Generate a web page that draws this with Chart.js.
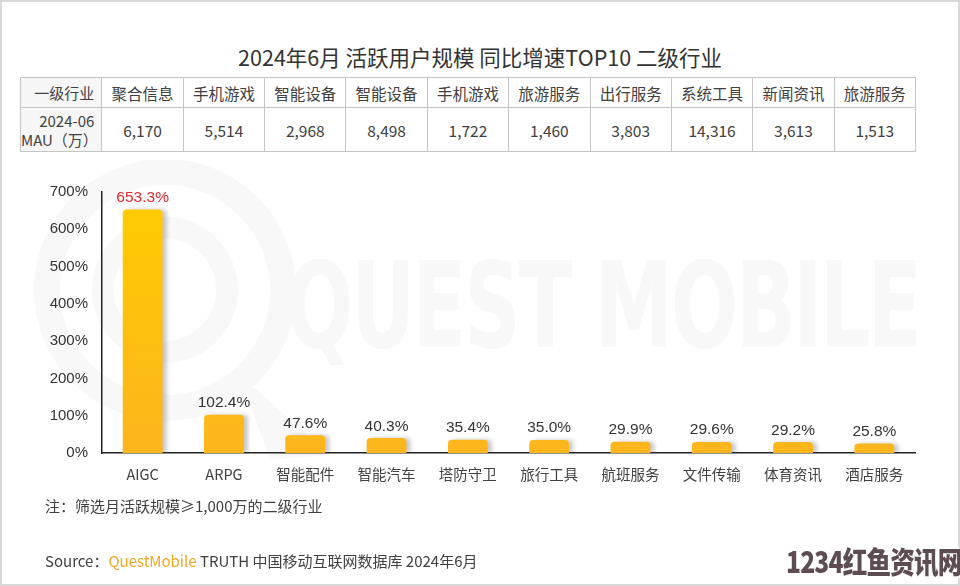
<!DOCTYPE html>
<html>
<head>
<meta charset="utf-8">
<script src="https://cdn.jsdelivr.net/npm/chart.js@4.4.1/dist/chart.umd.min.js"></script>
<style>
html, body { margin: 0; padding: 0; background: #fff; }
body { width: 960px; height: 586px; position: relative; overflow: hidden; font-family: "Noto Sans CJK SC", "Noto Sans", sans-serif; color: #404040; }
.frame { position: absolute; left: 0; top: 0; width: 956px; height: 582px; border: 2px solid #d8d8d8; }
.wm { position: absolute; left: 286px; top: 246px; font-family: "DejaVu Sans", sans-serif; font-weight: 700; font-size: 120px; color: #f8f8f8; white-space: nowrap; line-height: 1; letter-spacing: -4px; transform: scaleX(0.66); transform-origin: left top; }
.logo { position: absolute; left: 0; top: 160px; }
#wrap { position: absolute; left: 0; top: 0; width: 960px; height: 586px; }
.title { position: absolute; left: 0; width: 960px; top: 41px; text-align: center; font-size: 21.5px; color: #333; }
table { position: absolute; left: 20px; top: 77px; border-collapse: collapse; table-layout: fixed; width: 896px; font-size: 15.5px; color: #404040; }
td { border: 1.5px solid #c4c4c4; text-align: center; padding: 0; }
tr.h td { height: 29px; }
tr.v td { height: 43px; }
td.first { text-align: right; padding-right: 7px; background: #f6f6f6; line-height: 19px; font-size: 15px; }
.note { position: absolute; left: 45px; top: 495px; font-size: 15px; color: #404040; }
.src { position: absolute; left: 45px; top: 550px; font-size: 15px; color: #404040; }
.src b { font-weight: 400; color: #f5a623; }
.site { position: absolute; left: 786px; top: 538px; font-size: 30px; font-weight: 900; color: #5d4d52; white-space: nowrap; letter-spacing: -1px; transform: scaleX(0.82); transform-origin: left top; text-shadow: 2px 2px 0 #fff, -2px -2px 0 #fff; }
</style>
</head>
<body>
<div class="frame"></div>
<svg class="logo" width="340" height="320">
<circle cx="165" cy="130" r="118" fill="none" stroke="#f8f8f8" stroke-width="26"/>
<circle cx="165" cy="130" r="62" fill="none" stroke="#f8f8f8" stroke-width="22"/>
<path d="M240 215 L330 295 L270 300 Z" fill="#f8f8f8"/>
</svg>
<div class="wm">QUEST MOBILE</div>
<div class="title">2024年6月 活跃用户规模 同比增速TOP10 二级行业</div>
<table id="tbl"></table>
<div id="wrap"><canvas id="chart"></canvas></div>
<div class="note">注：筛选月活跃规模≥1,000万的二级行业</div>
<div class="src">Source：<b>QuestMobile</b> TRUTH 中国移动互联网数据库 2024年6月</div>
<div class="site">1234红鱼资讯网</div>
<script>
const categories = ['AIGC', 'ARPG', '智能配件', '智能汽车', '塔防守卫', '旅行工具', '航班服务', '文件传输', '体育资讯', '酒店服务'];
const growth = [653.3, 102.4, 47.6, 40.3, 35.4, 35.0, 29.9, 29.6, 29.2, 25.8];
const parentIndustry = ['聚合信息', '手机游戏', '智能设备', '智能设备', '手机游戏', '旅游服务', '出行服务', '系统工具', '新闻资讯', '旅游服务'];
const mau = ['6,170', '5,514', '2,968', '8,498', '1,722', '1,460', '3,803', '14,316', '3,613', '1,513'];
const yTicks = [0, 100, 200, 300, 400, 500, 600, 700];

function buildTable() {
  let h = '<tr class="h"><td class="first">一级行业</td>';
  parentIndustry.forEach(function(p) { h += '<td>' + p + '</td>'; });
  h += '</tr><tr class="v"><td class="first">2024-06<br>MAU（万）</td>';
  mau.forEach(function(m) { h += '<td>' + m + '</td>'; });
  h += '</tr>';
  document.getElementById('tbl').innerHTML = h;
}

const barShadow = {
  id: 'barShadow',
  beforeDatasetDraw: function(chart) {
    const ctx = chart.ctx;
    ctx.save();
    ctx.shadowColor = 'rgba(0,0,0,0.22)';
    ctx.shadowOffsetX = 4;
    ctx.shadowOffsetY = 0;
    ctx.shadowBlur = 4;
  },
  afterDatasetDraw: function(chart) { chart.ctx.restore(); }
};

const valueLabels = {
  id: 'valueLabels',
  afterDatasetsDraw: function(chart) {
    const ctx = chart.ctx;
    const meta = chart.getDatasetMeta(0);
    ctx.save();
    ctx.font = '15.5px "Liberation Sans", Arial, sans-serif';
    ctx.textAlign = 'center';
    ctx.textBaseline = 'bottom';
    meta.data.forEach(function(bar, i) {
      ctx.fillStyle = i === 0 ? '#e3262d' : '#333333';
      ctx.fillText(growth[i].toFixed(1) + '%', bar.x, bar.y - 4);
    });
    ctx.restore();
  }
};

function barGradient(context) {
  const area = context.chart.chartArea;
  if (!area) return '#ffc20e';
  const g = context.chart.ctx.createLinearGradient(0, area.top, 0, area.bottom);
  g.addColorStop(0, '#ffcc00');
  g.addColorStop(1, '#fdb51d');
  return g;
}

function initChart() {
  const ctx = document.getElementById('chart').getContext('2d');
  window.growthChart = new Chart(ctx, {
    type: 'bar',
    data: { labels: categories, datasets: [{ data: growth, backgroundColor: barGradient, borderRadius: { topLeft: 4, topRight: 4 }, borderSkipped: 'bottom', barPercentage: 0.49, categoryPercentage: 1 }] },
    options: {
      responsive: true, maintainAspectRatio: false, animation: false,
      layout: { padding: { left: 40, right: 45, top: 192, bottom: 93 } },
      plugins: { legend: { display: false }, tooltip: { enabled: false } },
      scales: {
        x: {
          grid: { display: false, drawTicks: false },
          border: { color: '#222', width: 1.5 },
          ticks: { color: '#404040', padding: 13, font: { family: '"Noto Sans CJK SC", sans-serif', size: 14.5 }, maxRotation: 0 },
          afterFit: function(s) { s.height = 40; }
        },
        y: {
          min: 0, max: 700,
          afterBuildTicks: function(s) { s.ticks = yTicks.map(function(v) { return { value: v }; }); },
          grid: { display: false, drawTicks: false },
          border: { color: '#222', width: 1.5 },
          ticks: { color: '#333', padding: 14, font: { family: '"Liberation Sans", Arial, sans-serif', size: 15 }, callback: function(v) { return v + '%'; } },
          afterFit: function(s) { s.width = 62; }
        }
      }
    },
    plugins: [barShadow, valueLabels]
  });
}

document.addEventListener('DOMContentLoaded', function() {
  buildTable();
  initChart();
});
</script>
</body>
</html>
